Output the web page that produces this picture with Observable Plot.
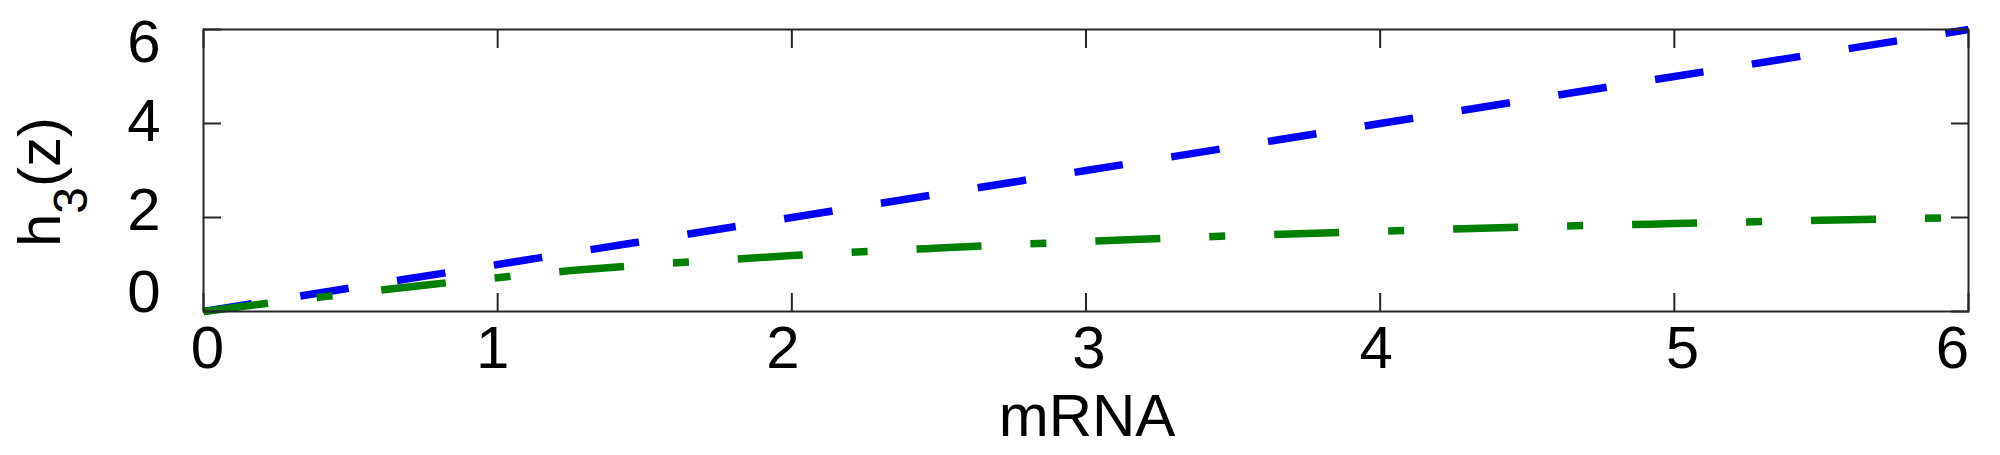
<!DOCTYPE html>
<html><head><meta charset="utf-8">
<script src="https://cdn.jsdelivr.net/npm/d3@7"></script>
<script src="https://cdn.jsdelivr.net/npm/@observablehq/plot@0.6"></script>
<style>body{margin:0;background:#fff} svg{display:block}</style>
</head><body><div id="chart"></div>
<script>
// Blue dashed series
const blueX = [0, 1, 2, 3, 4, 5, 6];
const blueY = [0, 1, 2, 3, 4, 5, 6];
// Green dash-dot series
const greenX = [0, 0.25, 0.5, 0.75, 1, 1.25, 1.5, 1.75, 2, 2.5, 3, 3.5, 4, 4.5, 5, 5.5, 6];
const greenY = [0, 0.2, 0.38, 0.56, 0.72, 0.87, 0.99, 1.09, 1.19, 1.35, 1.49, 1.61, 1.71, 1.80, 1.87, 1.94, 2.00];
// Ticks
const xTicks = [0, 1, 2, 3, 4, 5, 6];
const yTicks = [0, 2, 4, 6];
const xLabel = "mRNA";
const yLabelMain = "h", yLabelSub = "3", yLabelRest = "(z)";

const blue = blueX.map((x, i) => ({x, y: blueY[i]}));
const green = greenX.map((x, i) => ({x, y: greenY[i]}));

const font = "'Liberation Sans', Arial, Helvetica, sans-serif";
const axisColor = "#262626";
const yLabelDy = {0: -19, 2: -7, 4: -2, 6: 13};
const xLabelDx = {0: 4, 1: -5, 2: -9, 3: 3, 4: -4, 5: 8, 6: -16};

const svg = Plot.plot({
  width: 2000, height: 455,
  marginLeft: 203, marginRight: 32, marginTop: 29, marginBottom: 144,
  style: {fontFamily: font, background: "#fff", color: "#000"},
  x: {domain: [0, 6]},
  y: {domain: [0, 6]},
  marks: [
    Plot.line(blue, {x: "x", y: "y", stroke: "#0000ff", strokeWidth: 7.5, strokeDasharray: "49,49", strokeLinecap: "butt"}),
    Plot.line(green, {x: "x", y: "y", stroke: "#008000", strokeWidth: 7.5, strokeDasharray: "65,49,16,49", strokeLinecap: "butt", curve: "monotone-x"}),
    Plot.frame({stroke: axisColor, strokeWidth: 2}),
    Plot.axisX({anchor: "bottom", ticks: xTicks, tickSize: -18, fill: "none", stroke: axisColor, strokeWidth: 2, label: null}),
    Plot.axisX({anchor: "top", ticks: xTicks, tickSize: -18, fill: "none", stroke: axisColor, strokeWidth: 2, label: null}),
    Plot.axisY({anchor: "left", ticks: yTicks, tickSize: -18, fill: "none", stroke: axisColor, strokeWidth: 2, label: null}),
    Plot.axisY({anchor: "right", ticks: yTicks, tickSize: -18, fill: "none", stroke: axisColor, strokeWidth: 2, label: null}),
    ...xTicks.map(v => Plot.axisX({anchor: "bottom", ticks: [v], tickSize: 0, tickPadding: 14, dx: xLabelDx[v], fontSize: 60, fill: "#000", label: null, tickFormat: d => String(d)})),
    ...yTicks.map(v => Plot.axisY({anchor: "left", ticks: [v], tickSize: 0, tickPadding: 43, dy: yLabelDy[v], fontSize: 60, fill: "#000", label: null, tickFormat: d => String(d)}))
  ]
});
document.getElementById("chart").appendChild(svg);

const s = d3.select(svg);
s.append("text")
  .attr("x", 1087).attr("y", 436)
  .attr("text-anchor", "middle")
  .attr("font-family", font).attr("font-size", 60).attr("fill", "#000")
  .text(xLabel);
const yl = s.append("text")
  .attr("transform", "translate(60,247) rotate(-90)")
  .attr("text-anchor", "start")
  .attr("font-family", font).attr("font-size", 60).attr("fill", "#000");
yl.append("tspan").text(yLabelMain);
yl.append("tspan").attr("font-size", 48).attr("dy", 27).text(yLabelSub);
yl.append("tspan").attr("font-size", 60).attr("dy", -27).text(yLabelRest);
</script>
</body></html>
